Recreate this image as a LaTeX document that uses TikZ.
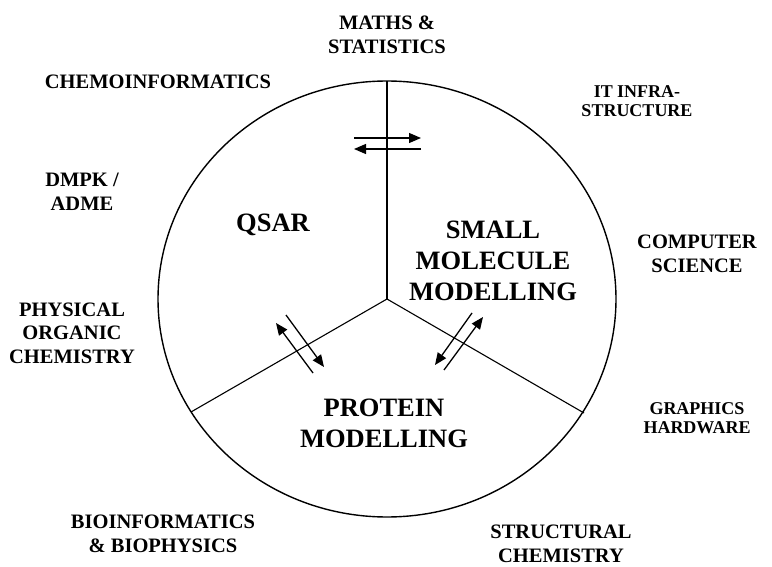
\documentclass[tikz,border=0pt]{standalone}
\usepackage{fontspec}
\setmainfont{Liberation Serif}
\usetikzlibrary{arrows.meta}

\tikzset{
  field/.style={font=\bfseries\fontsize{20.5}{23.5}\selectfont, align=center, inner sep=0pt},
  fieldsmall/.style={font=\bfseries\fontsize{18}{19}\selectfont, align=center, inner sep=0pt},
  area/.style={font=\bfseries\fontsize{26.5}{31}\selectfont, align=center, inner sep=0pt},
  flow/.style={-{Triangle[length=12pt,width=10pt]}, line width=1.3pt},
  rim/.style={line width=1.4pt},
  spoke/.style={line width=1.1pt}
}

\begin{document}
\begin{tikzpicture}[x=1pt,y=-1pt]
  \useasboundingbox (0,0) rectangle (772,567);

  % the circle and its three spokes
  \coordinate (hub) at (387,299);
  \coordinate (rimtop) at (387,81);
  \coordinate (rimleft) at (191,412);
  \coordinate (rimright) at (584,413);
  \draw[rim] (hub) ellipse [x radius=229pt, y radius=218pt];
  \draw[spoke] (hub) -- (rimtop);
  \draw[spoke] (hub) -- (rimleft);
  \draw[spoke] (hub) -- (rimright);

  % exchange arrows across the spokes
  \coordinate (ta) at (354,138);  \coordinate (tb) at (421,138);
  \coordinate (tc) at (421,149);  \coordinate (td) at (354,149);
  \draw[flow] (ta) -- (tb);
  \draw[flow] (tc) -- (td);

  \coordinate (la) at (313,373);  \coordinate (lb) at (276,323);
  \coordinate (lc) at (286,315);  \coordinate (ld) at (324,367);
  \draw[flow] (la) -- (lb);
  \draw[flow] (lc) -- (ld);

  \coordinate (ra) at (472,313);  \coordinate (rb) at (435,365);
  \coordinate (rc) at (444,370);  \coordinate (rd) at (483,317);
  \draw[flow] (ra) -- (rb);
  \draw[flow] (rc) -- (rd);

  % the three areas
  \node[area] (qsar) at (273,225) {QSAR};
  \node[area] (small) at (493,261) {SMALL\\MOLECULE\\MODELLING};
  \node[area] (protein) at (384,423) {PROTEIN\\MODELLING};

  % neighbouring fields
  \node[field] (maths) at (387,35) {MATHS \&\\STATISTICS};
  \node[field] (chemo) at (158,82) {CHEMOINFORMATICS};
  \node[fieldsmall] (infra) at (637,101) {IT INFRA-\\STRUCTURE};
  \node[field] (dmpk) at (82,192) {DMPK /\\ADME};
  \node[field] (physical) at (72,333) {PHYSICAL\\ORGANIC\\CHEMISTRY};
  \node[field] (computer) at (697,254) {COMPUTER\\SCIENCE};
  \node[fieldsmall] (graphics) at (697,418) {GRAPHICS\\HARDWARE};
  \node[field] (bioinf) at (163,534) {BIOINFORMATICS\\\& BIOPHYSICS};
  \node[field] (structural) at (561,544) {STRUCTURAL\\CHEMISTRY};
\end{tikzpicture}
\end{document}
